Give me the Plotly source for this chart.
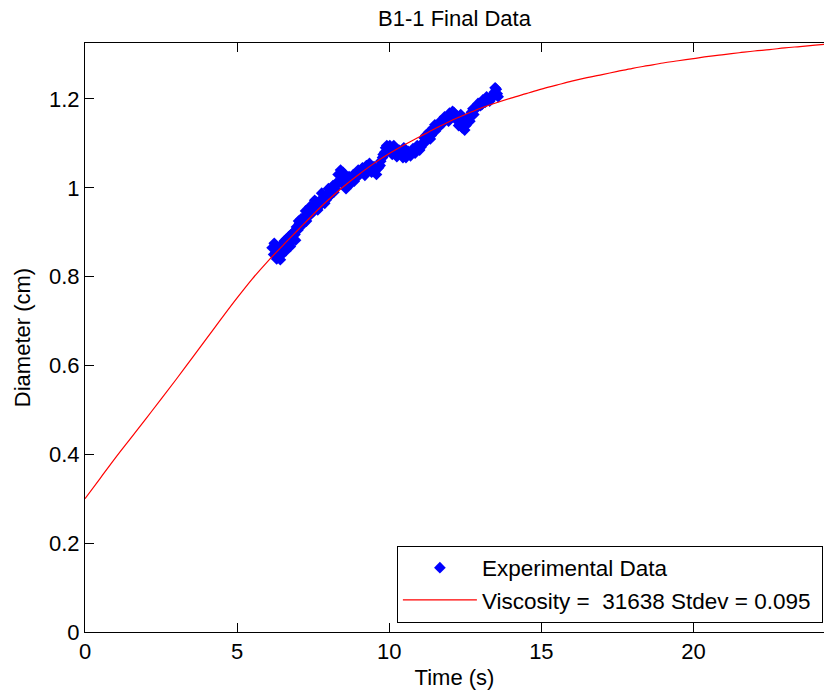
import plotly.graph_objects as go

# Experimental data (time in s, diameter in cm)
exp_t = [6.15, 6.20, 6.25, 6.30, 6.35, 6.40, 6.45, 6.50, 6.55, 6.60, 6.65, 6.70, 6.75,
         6.80, 6.85, 6.90, 6.95, 7.00, 7.05, 7.12, 7.20, 7.28, 7.35, 7.42, 7.50, 7.58,
         7.65, 7.72, 7.80, 7.88, 7.95, 8.02, 8.10, 8.18, 8.25, 8.32, 8.40, 8.45, 8.52,
         8.60, 8.68, 8.75, 8.82, 8.90, 8.98, 9.05, 9.12, 9.20, 9.28, 9.35, 9.42, 9.50,
         9.58, 9.65, 9.72, 9.80, 9.88, 9.95, 10.02, 10.10, 10.18, 10.25, 10.32, 10.40,
         10.48, 10.55, 10.62, 10.70, 10.78, 10.85, 10.92, 11.00, 11.08, 11.15, 11.22,
         11.30, 11.38, 11.45, 11.52, 11.60, 11.68, 11.75, 11.82, 11.90, 11.98, 12.05,
         12.12, 12.20, 12.28, 12.35, 12.42, 12.48, 12.55, 12.62, 12.70, 12.78, 12.85,
         12.92, 13.00, 13.08, 13.15, 13.22, 13.30, 13.38, 13.45, 13.52, 13.58,
         6.22, 6.32, 6.42, 6.52, 6.62, 6.72, 6.82, 6.92, 7.02, 7.10, 7.18, 7.25, 7.32,
         7.40, 7.48, 7.55, 7.62, 7.70, 7.78, 7.85, 7.92, 8.00, 8.08, 8.15, 8.22, 8.35,
         8.48, 8.58, 8.70, 8.85, 9.00, 9.15, 9.25, 9.40, 9.55, 9.70, 9.78, 9.85, 9.92,
         10.05, 10.15, 10.30, 10.45, 10.60, 10.75, 10.90, 11.05, 11.20, 11.35, 11.50,
         11.65, 11.80, 11.95, 12.08, 12.25, 12.40, 12.52, 12.65, 12.75, 12.88, 13.05,
         13.20, 13.35, 13.48, 13.55]
exp_d = [0.865, 0.850, 0.872, 0.840, 0.858, 0.868, 0.848, 0.862, 0.880, 0.858, 0.872,
         0.890, 0.868, 0.882, 0.900, 0.895, 0.912, 0.905, 0.920, 0.915, 0.935, 0.925,
         0.945, 0.940, 0.955, 0.960, 0.950, 0.970, 0.975, 0.965, 0.985, 0.980, 0.995,
         0.990, 1.010, 1.030, 1.040, 1.020, 1.005, 1.015, 1.025, 1.010, 1.030, 1.022,
         1.040, 1.032, 1.045, 1.028, 1.040, 1.055, 1.035, 1.048, 1.030, 1.045, 1.060,
         1.075, 1.090, 1.082, 1.095, 1.075, 1.088, 1.070, 1.085, 1.078, 1.090, 1.068,
         1.082, 1.072, 1.088, 1.078, 1.095, 1.085, 1.100, 1.112, 1.105, 1.125, 1.118,
         1.135, 1.128, 1.140, 1.150, 1.145, 1.160, 1.155, 1.168, 1.160, 1.170, 1.158,
         1.140, 1.165, 1.150, 1.130, 1.145, 1.160, 1.170, 1.165, 1.178, 1.190, 1.185,
         1.198, 1.192, 1.200, 1.195, 1.208, 1.215, 1.222, 1.205,
         0.875, 0.862, 0.838, 0.870, 0.885, 0.875, 0.898, 0.882, 0.925, 0.930, 0.920,
         0.948, 0.935, 0.958, 0.945, 0.972, 0.968, 0.958, 0.988, 0.980, 0.972, 0.998,
         0.985, 1.005, 0.998, 1.012, 1.035, 0.998, 1.018, 1.015, 1.028, 1.035, 1.050,
         1.045, 1.040, 1.050, 1.068, 1.080, 1.095, 1.085, 1.095, 1.078, 1.068, 1.075,
         1.082, 1.088, 1.092, 1.118, 1.110, 1.142, 1.138, 1.150, 1.150, 1.172, 1.150,
         1.135, 1.140, 1.150, 1.178, 1.185, 1.188, 1.205, 1.200, 1.225, 1.212]

# Model fit curve
fit_t = [0, 0.5, 1, 1.5, 2, 2.5, 3, 3.5, 4, 4.5, 5, 5.5, 6, 6.5, 7, 7.5, 8, 8.5, 9,
         9.5, 10, 10.5, 11, 11.5, 12, 12.5, 13, 13.5, 14, 14.5, 15, 15.5, 16, 16.5,
         17, 17.5, 18, 18.5, 19, 19.5, 20, 20.5, 21, 21.5, 22, 22.5, 23, 23.5, 24, 24.3]
fit_d = [0.300, 0.346, 0.392, 0.436, 0.480, 0.524, 0.569, 0.615, 0.661, 0.707, 0.752,
         0.795, 0.834, 0.870, 0.905, 0.940, 0.973, 1.003, 1.030, 1.055, 1.077, 1.097,
         1.115, 1.133, 1.150, 1.165, 1.179, 1.191, 1.202, 1.212, 1.222, 1.231, 1.240,
         1.248, 1.255, 1.262, 1.269, 1.275, 1.281, 1.286, 1.291, 1.296, 1.300, 1.304,
         1.308, 1.311, 1.315, 1.318, 1.321, 1.323]

x_ticks = [0, 5, 10, 15, 20]
y_ticks = [0, 0.2, 0.4, 0.6, 0.8, 1.0, 1.2]
y_tick_text = ["0", "0.2", "0.4", "0.6", "0.8", "1", "1.2"]

FONT = "Liberation Sans, Arial, sans-serif"

fig = go.Figure()
fig.add_trace(go.Scatter(
    x=exp_t, y=exp_d, mode="markers", name="Experimental Data",
    marker=dict(symbol="diamond", size=9, color="#0000FF", line=dict(width=0)),
))
fig.add_trace(go.Scatter(
    x=fit_t, y=fit_d, mode="lines", name="Viscosity =  31638 Stdev = 0.095\u00a0",
    line=dict(color="#FF0000", width=1.2, shape="spline"),
))

fig.update_layout(
    width=824, height=698,
    margin=dict(l=85, r=0, t=43, b=66),
    paper_bgcolor="white", plot_bgcolor="white",
    font=dict(family=FONT, size=22, color="black"),
    title=dict(text="B1-1 Final Data", x=0.5, xref="paper", xanchor="center",
               y=0.974, yanchor="middle",
               font=dict(family=FONT, size=22, color="black")),
    showlegend=True,
    legend=dict(x=0.9985, y=0.016, xanchor="right", yanchor="bottom",
                bgcolor="white", bordercolor="black", borderwidth=1,
                font=dict(family=FONT, size=22.5, color="black"),
                itemwidth=74, tracegroupgap=0),
    xaxis=dict(range=[0, 24.29], tickvals=x_ticks, ticks="inside", ticklen=9,
               tickcolor="black", showline=True, linecolor="black", linewidth=1,
               mirror="ticks", showgrid=False, zeroline=False,
               title=dict(text="Time (s)", standoff=6, font=dict(size=22)),
               tickfont=dict(size=22)),
    yaxis=dict(range=[0, 1.326], tickvals=y_ticks, ticktext=y_tick_text,
               ticks="inside", ticklen=9,
               tickcolor="black", showline=True, linecolor="black", linewidth=1,
               mirror=False, showgrid=False, zeroline=False,
               title=dict(text="Diameter (cm)", standoff=12, font=dict(size=22)),
               tickfont=dict(size=22)),
)

fig.write_html("out.html")
